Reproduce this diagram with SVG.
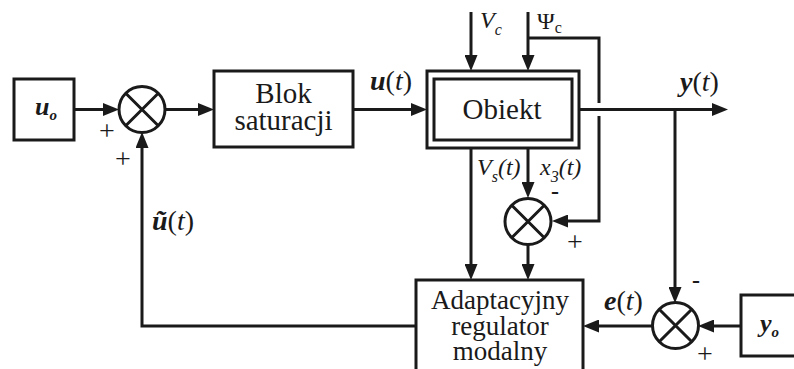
<svg xmlns="http://www.w3.org/2000/svg" width="794" height="369" viewBox="0 0 794 369" font-family="Liberation Serif, serif">
<style>
.box{fill:#fff;stroke:#1a1a1a;stroke-width:3}
.sum{fill:#fff;stroke:#1a1a1a;stroke-width:3}
.x{stroke:#1a1a1a;stroke-width:3}
.ln{fill:none;stroke:#1a1a1a;stroke-width:3}
text{fill:#1a1a1a;font-family:'Liberation Serif',serif}
.bt{font-size:29px;text-anchor:middle}
.rt{font-size:27px;text-anchor:middle}
.lab{font-size:28px}
.v{font-weight:bold;font-style:italic}
.i{font-style:italic}
.sm{font-size:24px}
.sign{font-size:28px;text-anchor:middle}
.minus{font-size:24px;font-weight:bold;text-anchor:middle}
</style>
<defs>
<marker id="ah" markerUnits="userSpaceOnUse" markerWidth="16" markerHeight="13" refX="8" refY="6.5" orient="auto">
<path d="M0,0 L16,6.5 L0,13 Z" fill="#1a1a1a"/>
</marker>
</defs>

<g id="connectors">
<path class="ln" d="M74,109.5 H111" marker-end="url(#ah)"/>
<path class="ln" d="M165,109.5 H206" marker-end="url(#ah)"/>
<path class="ln" d="M353,109.5 H419" marker-end="url(#ah)"/>
<path class="ln" d="M471,12 V63" marker-end="url(#ah)"/>
<path class="ln" d="M528,12 V63" marker-end="url(#ah)"/>
<path class="ln" d="M528,38 H599 V103"/>
<path class="ln" d="M599,116 V221 H560" marker-end="url(#ah)"/>
<path class="ln" d="M579,109.5 H720" marker-end="url(#ah)"/>
<path class="ln" d="M675,109.5 V295" marker-end="url(#ah)"/>
<path class="ln" d="M471,148 V272" marker-end="url(#ah)"/>
<path class="ln" d="M528,148 V190" marker-end="url(#ah)"/>
<path class="ln" d="M528,245 V272" marker-end="url(#ah)"/>
<path class="ln" d="M741,326 H706" marker-end="url(#ah)"/>
<path class="ln" d="M653,326 H591" marker-end="url(#ah)"/>
<path class="ln" d="M416,326 H142 V140" marker-end="url(#ah)"/>
</g>

<g id="uo">
<rect class="box" x="14" y="79" width="60" height="61"/>
<text x="35" y="115" font-size="26"><tspan class="v">u</tspan><tspan class="v" font-size="15" dy="5">o</tspan></text>
</g>

<g id="sum1">
<circle class="sum" cx="142" cy="109.5" r="23"/>
<path class="x" d="M125.7,93.2 L158.3,125.8 M158.3,93.2 L125.7,125.8"/>
<text class="sign" x="107" y="140">+</text>
<text class="sign" x="123" y="168">+</text>
</g>

<g id="blok">
<rect class="box" x="214" y="71" width="139" height="76"/>
<text class="bt" x="283.5" y="103">Blok</text>
<text class="bt" x="283.5" y="130">saturacji</text>
</g>

<g id="obiekt">
<rect class="box" x="427" y="71" width="152" height="77"/>
<rect class="box" x="434" y="79" width="138" height="61"/>
<text class="bt" x="502" y="119">Obiekt</text>
</g>

<g id="sum2">
<circle class="sum" cx="528" cy="221.5" r="23"/>
<path class="x" d="M511.7,205.2 L544.3,237.8 M544.3,205.2 L511.7,237.8"/>
<text class="minus" x="555" y="199">-</text>
<text class="sign" x="575" y="251">+</text>
</g>

<g id="regulator">
<rect class="box" x="416" y="280" width="167" height="100"/>
<text class="rt" x="500" y="309">Adaptacyjny</text>
<text class="rt" x="500" y="335">regulator</text>
<text class="rt" x="500" y="360">modalny</text>
</g>

<g id="sum3">
<circle class="sum" cx="675.5" cy="325.5" r="23"/>
<path class="x" d="M659.2,309.2 L691.8,341.8 M691.8,309.2 L659.2,341.8"/>
<text class="minus" x="696" y="288">-</text>
<text class="sign" x="705" y="363">+</text>
</g>

<g id="yo">
<rect class="box" x="741" y="295" width="60" height="61"/>
<text x="760" y="332" font-size="26"><tspan class="v">y</tspan><tspan class="v" font-size="15" dy="5">o</tspan></text>
</g>

<g id="labels">
<text class="lab" x="370" y="90"><tspan class="v">u</tspan>(<tspan class="i">t</tspan>)</text>
<text class="lab" x="680" y="91"><tspan class="v">y</tspan>(<tspan class="i">t</tspan>)</text>
<text class="lab" x="604" y="310"><tspan class="v">e</tspan>(<tspan class="i">t</tspan>)</text>
<text class="lab" x="152" y="230"><tspan class="v">ũ</tspan>(<tspan class="i">t</tspan>)</text>
<text class="sm i" x="480" y="28">V<tspan font-size="16" dy="7">c</tspan></text>
<text class="sm" x="537" y="29">Ψ<tspan font-size="16" dy="4">c</tspan></text>
<text class="sm i" x="477" y="175">V<tspan font-size="16" dy="7">s</tspan><tspan dy="-7">(t)</tspan></text>
<text class="sm i" x="540" y="175">x<tspan font-size="16" dy="7">3</tspan><tspan dy="-7">(t)</tspan></text>
</g>
</svg>
